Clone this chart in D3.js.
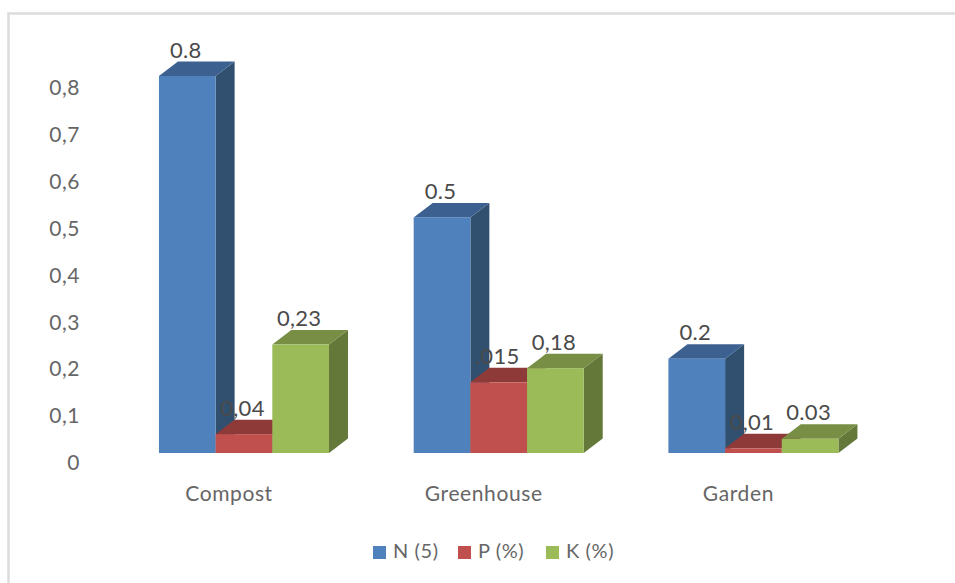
<!DOCTYPE html>
<html>
<head>
<meta charset="utf-8">
<script src="https://cdn.jsdelivr.net/npm/d3@7"></script>
<style>
  html, body { margin: 0; padding: 0; background: #fff; }
  svg { display: block; }
  text { font-family: Lato, "Open Sans", sans-serif; }
</style>
</head>
<body>
<svg id="chart" width="955" height="583"></svg>
<script>
// Nutrient content by compost source
const categories = ["Compost", "Greenhouse", "Garden"];
const seriesNames = ["N (5)", "P (%)", "K (%)"];
const nValues = [0.8, 0.5, 0.2];
const pValues = [0.04, 0.15, 0.01];
const kValues = [0.23, 0.18, 0.03];
const nLabels = ["0.8", "0.5", "0.2"];
const pLabels = ["0,04", ".015", "0,01"];
const kLabels = ["0,23", "0,18", "0.03"];
const yTicks = [0, 0.1, 0.2, 0.3, 0.4, 0.5, 0.6, 0.7, 0.8];

const front = ["#4f81bd", "#c0504d", "#9bbb59"];
const top_ = ["#3c6191", "#8e3a38", "#778e44"];
const side = ["#31506f", "#7a3230", "#64783a"];

const svg = d3.select("#chart");

// Outer chart frame
svg.append("path")
  .attr("d", "M955,13.5H8.5V583")
  .attr("fill", "none")
  .attr("stroke", "#dcdcdc")
  .attr("stroke-width", 2.5);

const baseY = 453;
const y = d3.scaleLinear().domain([0, 0.8]).range([baseY, baseY - 377]);
const x0 = d3.scaleBand().domain(categories).range([116.6, 880.8])
  .paddingInner(0.3325).paddingOuter(0.16625);
const x1 = d3.scaleBand().domain(seriesNames).range([0, x0.bandwidth()]);
const depthX = 19, depthY = 14.5;

const rows = [nValues, pValues, kValues];
const labelRows = [nLabels, pLabels, kLabels];

// Value axis: labels only, offset below the floor of the 3D plot
const axis = d3.axisLeft(y.copy().range([463, 463 - 375]))
  .tickValues(yTicks)
  .tickSize(0)
  .tickPadding(0)
  .tickFormat(d => d3.format(d === 0 ? ".0f" : ".1f")(d).replace(".", ","));
const yAxis = svg.append("g").attr("transform", "translate(80,0)").call(axis);
yAxis.select(".domain").remove();
yAxis.selectAll("text")
  .attr("font-size", 21)
  .attr("letter-spacing", 0.5)
  .attr("fill", "#666")
  .style("font-family", "Lato, sans-serif");

// Category labels sit a little left of their group centre
const xAxis = d3.axisBottom(x0).tickSize(0);
const xg = svg.append("g").attr("transform", "translate(-15,484)").call(xAxis);
xg.select(".domain").remove();
xg.selectAll("text")
  .attr("font-size", 21)
  .attr("letter-spacing", 0.6)
  .attr("fill", "#666")
  .attr("dy", "0.35em")
  .attr("y", 10)
  .style("font-family", "Lato, sans-serif");

// Boxes are painted back to front so each one overlaps the one behind it
categories.forEach((cat, c) => {
  seriesNames.forEach((name, s) => {
    const v = rows[s][c];
    const xl = x0(cat) + x1(name);
    const w = x1.bandwidth();
    const yt = y(v);
    const g = svg.append("g");
    g.append("path")
      .attr("d", `M${xl + w},${baseY}L${xl + w + depthX},${baseY - depthY}V${yt - depthY}L${xl + w},${yt}Z`)
      .attr("fill", side[s]);
    g.append("path")
      .attr("d", `M${xl},${yt}L${xl + depthX},${yt - depthY}H${xl + w + depthX}L${xl + w},${yt}Z`)
      .attr("fill", top_[s]);
    g.append("rect")
      .attr("x", xl).attr("y", yt)
      .attr("width", w).attr("height", baseY - yt)
      .attr("fill", front[s]);
  });
});

// Data labels float above the back edge of each box
categories.forEach((cat, c) => {
  seriesNames.forEach((name, s) => {
    const xl = x0(cat) + x1(name);
    const w = x1.bandwidth();
    svg.append("text")
      .attr("x", xl + w / 2 - 1.5)
      .attr("y", y(rows[s][c]) - depthY - 4)
      .attr("text-anchor", "middle")
      .attr("font-size", 22)
      .attr("letter-spacing", 0.3)
      .attr("fill", "#4a4a4a")
      .text(labelRows[s][c]);
  });
});

// Legend
const legendX = [373, 458, 546];
const legend = svg.append("g");
seriesNames.forEach((name, s) => {
  legend.append("rect")
    .attr("x", legendX[s]).attr("y", 546)
    .attr("width", 13).attr("height", 13)
    .attr("fill", front[s]);
  legend.append("text")
    .attr("x", legendX[s] + 20).attr("y", 558)
    .attr("font-size", 20)
    .attr("letter-spacing", 0.6)
    .attr("fill", "#666")
    .text(name);
});
</script>
</body>
</html>
